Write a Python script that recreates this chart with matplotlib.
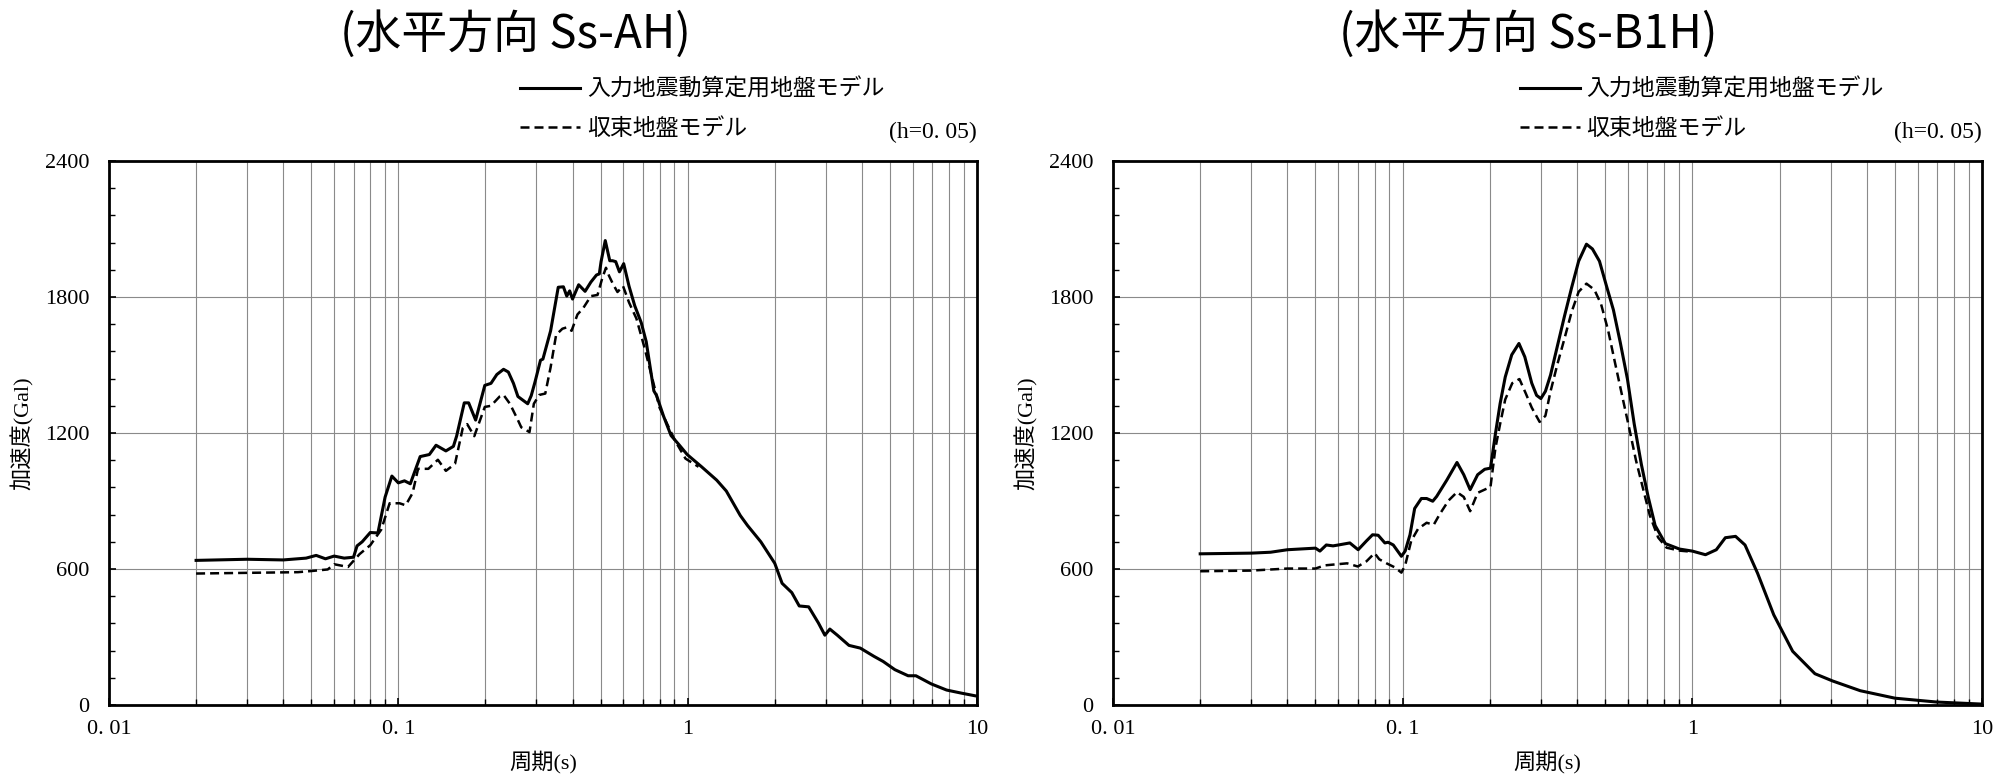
import matplotlib
matplotlib.use("Agg")
import matplotlib.pyplot as plt
from matplotlib.ticker import FixedLocator, LogLocator, NullFormatter, MultipleLocator

# ---- data (period [s], acceleration [Gal]) ----
ah_solid_t = [0.02, 0.03, 0.04, 0.048, 0.052, 0.056, 0.06, 0.065, 0.07, 0.072, 0.075, 0.08, 0.085,
              0.09, 0.095, 0.1, 0.105, 0.11, 0.119, 0.128, 0.135, 0.146, 0.155, 0.159, 0.169, 0.175,
              0.185, 0.199, 0.209, 0.219, 0.231, 0.240, 0.250, 0.259, 0.280, 0.288, 0.297, 0.310,
              0.316, 0.336, 0.357, 0.372, 0.382, 0.391, 0.400, 0.420, 0.442, 0.463, 0.484, 0.495,
              0.502, 0.519, 0.538, 0.550, 0.564, 0.581, 0.601, 0.627, 0.656, 0.691, 0.719, 0.742,
              0.764, 0.781, 0.825, 0.876, 0.931, 0.996, 1.117, 1.26, 1.36, 1.52, 1.61, 1.79, 2.0,
              2.12, 2.29, 2.43, 2.62, 2.83, 2.98, 3.10, 3.29, 3.61, 3.95, 4.40, 4.74, 5.20, 5.78,
              6.15, 6.95, 7.85, 8.86, 10.0]
ah_solid_v = [638, 643, 640, 648, 660, 645, 657, 648, 652, 702, 720, 761, 759,
              917, 1010, 980, 989, 976, 1096, 1105, 1146, 1121, 1141, 1186, 1333, 1333,
              1257, 1410, 1419, 1458, 1481, 1469, 1419, 1361, 1329, 1365, 1427, 1521,
              1526, 1651, 1843, 1845, 1804, 1827, 1791, 1854, 1825, 1866, 1897, 1902,
              1956, 2049, 1960, 1960, 1956, 1911, 1947, 1848, 1762, 1687, 1603, 1490,
              1386, 1365, 1275, 1189, 1150, 1105, 1051, 992, 944, 836, 792, 720, 625,
              537, 496, 437, 433, 362, 308, 335, 308, 263, 251, 215, 192, 156, 129,
              129, 93, 66, 52, 39]

ah_dash_t = [0.02, 0.03, 0.045, 0.05, 0.057, 0.06, 0.064, 0.067, 0.0735, 0.08, 0.0873, 0.0933, 0.101,
             0.106, 0.112, 0.117, 0.127, 0.137, 0.146, 0.157, 0.167, 0.173, 0.183, 0.199, 0.209,
             0.224, 0.231, 0.243, 0.259, 0.266, 0.284, 0.294, 0.307, 0.322, 0.336, 0.351, 0.369,
             0.382, 0.397, 0.416, 0.435, 0.463, 0.488, 0.507, 0.522, 0.535, 0.552, 0.572, 0.598,
             0.627, 0.665, 0.708, 0.753, 0.800, 0.850, 0.903, 0.983, 1.09]
ah_dash_v = [580, 583, 586, 591, 598, 621, 614, 609, 666, 705, 774, 890, 890,
             881, 935, 1042, 1042, 1082, 1033, 1064, 1222, 1239, 1186, 1315, 1320,
             1361, 1368, 1329, 1257, 1225, 1204, 1329, 1368, 1374, 1490, 1633, 1660,
             1666, 1651, 1723, 1750, 1804, 1809, 1884, 1929, 1893, 1857, 1822, 1848,
             1776, 1705, 1580, 1445, 1311, 1239, 1168, 1087, 1051]

b1h_solid_t = [0.02, 0.03, 0.035, 0.04, 0.044, 0.05, 0.0518, 0.0545, 0.0575, 0.06, 0.0657, 0.0702,
               0.075, 0.0787, 0.0823, 0.0868, 0.0891, 0.0928, 0.099, 0.102, 0.106, 0.110, 0.116,
               0.121, 0.127, 0.131, 0.142, 0.154, 0.1625, 0.171, 0.1815, 0.192, 0.201, 0.209,
               0.217, 0.226, 0.238, 0.252, 0.264, 0.279, 0.290, 0.300, 0.311, 0.324, 0.343, 0.362,
               0.383, 0.405, 0.431, 0.452, 0.478, 0.505, 0.534, 0.564, 0.597, 0.630, 0.667, 0.704,
               0.744, 0.807, 0.903, 1.0, 1.11, 1.21, 1.30, 1.41, 1.52, 1.68, 1.91, 2.22, 2.65,
               3.05, 3.80, 5.01, 6.98, 10.0]
b1h_solid_v = [667, 670, 674, 685, 688, 692, 679, 706, 702, 706, 715, 685,
               724, 751, 749, 715, 718, 706, 656, 679, 751, 867, 911,
               911, 899, 920, 992, 1070, 1016, 950, 1016, 1040, 1045, 1196,
               1330, 1447, 1545, 1595, 1536, 1420, 1366, 1352, 1384, 1456, 1590, 1716,
               1841, 1958, 2033, 2012, 1958, 1850, 1743, 1599, 1438, 1240, 1061, 918,
               792, 712, 688, 679, 663, 685, 738, 744, 706, 581, 398, 237, 138,
               106, 63, 30, 13, 4]

b1h_dash_t = [0.02, 0.03, 0.04, 0.05, 0.0538, 0.0643, 0.070, 0.075, 0.080, 0.083, 0.088, 0.094,
              0.099, 0.102, 0.107, 0.113, 0.121, 0.128, 0.134, 0.144, 0.154, 0.1625, 0.171,
              0.1815, 0.201, 0.209, 0.217, 0.226, 0.239, 0.253, 0.266, 0.279, 0.297, 0.311,
              0.324, 0.343, 0.362, 0.383, 0.405, 0.431, 0.459, 0.484, 0.512, 0.541, 0.572,
              0.605, 0.639, 0.676, 0.713, 0.762, 0.815, 0.903, 1.0]
b1h_dash_v = [590, 593, 602, 602, 616, 625, 611, 634, 670, 643, 625, 607,
              584, 616, 724, 777, 804, 795, 840, 902, 939, 918, 855,
              936, 962, 1133, 1240, 1348, 1420, 1438, 1375, 1312, 1249, 1276,
              1384, 1509, 1617, 1734, 1823, 1859, 1832, 1769, 1653, 1509, 1366,
              1223, 1079, 954, 837, 739, 694, 681, 676]

titles = ["(水平方向 Ss-AH)", "(水平方向 Ss-B1H)"]
label_solid = "入力地震動算定用地盤モデル"
label_dash = "収束地盤モデル"
damping_text = "(h=0. 05)"
x_ticks = [0.01, 0.1, 1, 10]
x_tick_labels = ["0. 01", "0. 1", "1", "10"]
y_ticks = [0, 600, 1200, 1800, 2400]

SERIF = ["Liberation Serif", "Noto Sans CJK JP"]
GOTHIC = ["Noto Sans CJK JP", "DejaVu Sans"]

fig = plt.figure(figsize=(19.95, 7.76), dpi=100)
bottom = 1 - 705 / 776
height = 544 / 776
ax1 = fig.add_axes([109 / 1995, bottom, 868 / 1995, height])
ax2 = fig.add_axes([1113 / 1995, bottom, 869 / 1995, height])

panels = [
    (ax1, ah_solid_t, ah_solid_v, ah_dash_t, ah_dash_v, titles[0], 0.468, 0.4735),
    (ax2, b1h_solid_t, b1h_solid_v, b1h_dash_t, b1h_dash_v, titles[1], 0.478, 0.468),
]

for ax, st, sv, dt, dv, title, tx, lx in panels:
    ax.plot(dt, dv, color="black", lw=1.8, linestyle=(0, (3.6, 2.0)), label=label_dash, zorder=3)
    ax.plot(st, sv, color="black", lw=2.2, label=label_solid, zorder=4)

    ax.set_xscale("log")
    ax.set_xlim(0.01, 10)
    ax.set_ylim(0, 2400)

    ax.xaxis.set_major_locator(FixedLocator(x_ticks))
    ax.set_xticklabels(x_tick_labels, family=SERIF, fontsize=16)
    ax.xaxis.set_minor_locator(LogLocator(base=10, subs=range(2, 10)))
    ax.xaxis.set_minor_formatter(NullFormatter())
    ax.yaxis.set_major_locator(FixedLocator(y_ticks))
    ax.set_yticklabels([str(v) for v in y_ticks], family=SERIF, fontsize=16)
    ax.yaxis.set_minor_locator(MultipleLocator(120))

    ax.tick_params(which="both", direction="in", top=False, right=False, color="black")
    ax.tick_params(which="major", length=5, width=1.2)
    ax.tick_params(which="minor", length=4, width=1.0)
    ax.tick_params(axis="x", which="major", pad=11)
    ax.tick_params(axis="y", which="major", pad=14)

    ax.grid(True, which="major", axis="both", color="#8a8a8a", lw=0.8)
    ax.grid(True, which="minor", axis="x", color="#8a8a8a", lw=0.8)
    ax.set_axisbelow(True)
    for sp in ax.spines.values():
        sp.set_linewidth(2.0)
        sp.set_color("black")

    ax.set_xlabel("周期(s)", family=SERIF, fontsize=16, labelpad=8)
    ax.set_ylabel("加速度(Gal)", family=SERIF, fontsize=16, labelpad=8)

    ax.text(tx, 1.232, title, transform=ax.transAxes, ha="center", va="center",
            family=GOTHIC, fontsize=33)
    ax.text(1.0, 1.052, damping_text, transform=ax.transAxes, ha="right", va="center",
            family=SERIF, fontsize=17)

    handles, labels = ax.get_legend_handles_labels()
    ax.legend(handles[::-1], labels[::-1], loc="upper left", bbox_to_anchor=(lx, 1.153),
              frameon=False, prop={"family": GOTHIC, "size": 16.5}, handlelength=2.62,
              handletextpad=0.3, labelspacing=0.7, borderaxespad=0, borderpad=0)

fig.savefig("out.png", dpi=100)
